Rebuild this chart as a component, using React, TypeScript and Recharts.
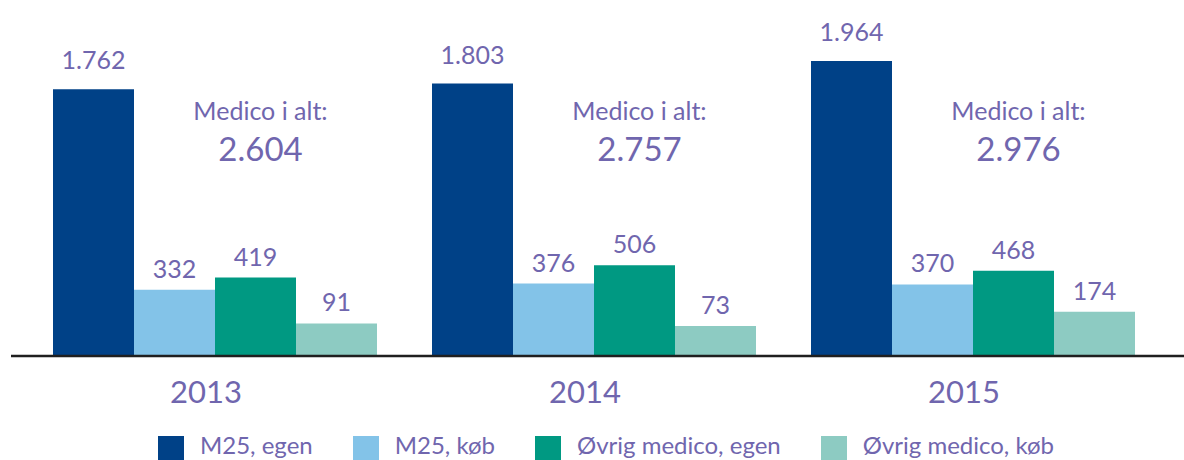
import React from 'react';
import { BarChart, Bar, XAxis, YAxis, Legend, LabelList } from 'recharts';

const YEARS = ['2013', '2014', '2015'];
const M25_EGEN = [1762, 1803, 1964];
const M25_KOB = [332, 376, 370];
const OVRIG_EGEN = [419, 506, 468];
const OVRIG_KOB = [91, 73, 174];
const TOTALS = [2604, 2757, 2976];
const SERIES_NAMES = ['M25, egen', 'M25, køb', 'Øvrig medico, egen', 'Øvrig medico, køb'];
const TOTAL_CAPTION = 'Medico i alt:';

// value axis range (the original chart's bars start below zero)
const AXIS_FLOOR = -141;
const AXIS_TOP = 2000;

const COLORS = ['#004187', '#83C3E8', '#009982', '#8DCBC2'];
const TEXT = '#7066AE';
const FONT = 'Lato, "Open Sans", sans-serif';

const data = YEARS.map((year, i) => ({
  year,
  m25Egen: M25_EGEN[i],
  m25Kob: M25_KOB[i],
  ovrigEgen: OVRIG_EGEN[i],
  ovrigKob: OVRIG_KOB[i],
  total: TOTALS[i],
}));

const KEYS = ['m25Egen', 'm25Kob', 'ovrigEgen', 'ovrigKob'];

const fmt = (v: any) => String(v).replace(/\B(?=(\d{3})+(?!\d))/g, '.');

const YearTick = (props: any) => {
  const { x, y, payload } = props;
  return (
    <text x={x - 8} y={y + 47} textAnchor="middle" fill={TEXT} fontFamily={FONT} fontSize={31}>
      {payload.value}
    </text>
  );
};

const TotalLabel = (props: any) => {
  const vb = props.viewBox || props;
  const cx = vb.x + vb.width / 2 + 5;
  const bottom = vb.y + vb.height;
  return (
    <g>
      <text x={cx} y={bottom - 236} textAnchor="middle" fill={TEXT} fontFamily={FONT} fontSize={25}>
        {TOTAL_CAPTION}
      </text>
      <text x={cx} y={bottom - 195} textAnchor="middle" fill={TEXT} fontFamily={FONT} fontSize={33}>
        {fmt(props.value)}
      </text>
    </g>
  );
};

const renderLegend = () => (
  <div
    style={{
      display: 'flex',
      justifyContent: 'center',
      alignItems: 'flex-start',
      height: 24,
      paddingLeft: 28,
      fontFamily: FONT,
      fontSize: 24,
      color: TEXT,
      boxSizing: 'border-box',
    }}
  >
    {SERIES_NAMES.map((n, i) => (
      <div key={n} style={{ display: 'flex', alignItems: 'flex-start', marginRight: i < 3 ? 40 : 0 }}>
        <span style={{ width: 26, height: 24, background: COLORS[i], marginRight: 16, display: 'inline-block' }} />
        <span style={{ lineHeight: '24px', whiteSpace: 'nowrap', position: 'relative', top: -3 }}>{n}</span>
      </div>
    ))}
  </div>
);

export default function App() {
  return (
    <div style={{ position: 'absolute', left: 0, top: 0, width: 1184, height: 460, overflow: 'hidden', background: '#fff' }}>
      <BarChart
        width={1184}
        height={460}
        data={data}
        margin={{ top: 56, right: 0, bottom: 0, left: 11 }}
        barCategoryGap={28.5}
        barGap={0}
      >
        <XAxis
          dataKey="year"
          axisLine={{ stroke: '#1f1f1f', strokeWidth: 2.5 }}
          tickLine={false}
          tickSize={0}
          tickMargin={0}
          height={80}
          padding={{ left: 13.5, right: 22.5 }}
          tick={<YearTick />}
          interval={0}
        />
        <YAxis hide type="number" domain={[AXIS_FLOOR, AXIS_TOP]} allowDataOverflow />
        <Legend verticalAlign="bottom" content={renderLegend} wrapperStyle={{ left: 0, width: 1184, height: 24 }} />
        {KEYS.map((k, i) => (
          <Bar
            key={k}
            name={SERIES_NAMES[i]}
            dataKey={(d: any) => [AXIS_FLOOR, d[k]]}
            fill={COLORS[i]}
            isAnimationActive={false}
          >
            <LabelList
              dataKey={k}
              position="top"
              offset={i === 0 ? 20 : 12}
              formatter={fmt}
              fill={TEXT}
              fontFamily={FONT}
              fontSize={25}
            />
            {i === 2 ? <LabelList dataKey="total" content={<TotalLabel />} /> : null}
          </Bar>
        ))}
      </BarChart>
    </div>
  );
}
